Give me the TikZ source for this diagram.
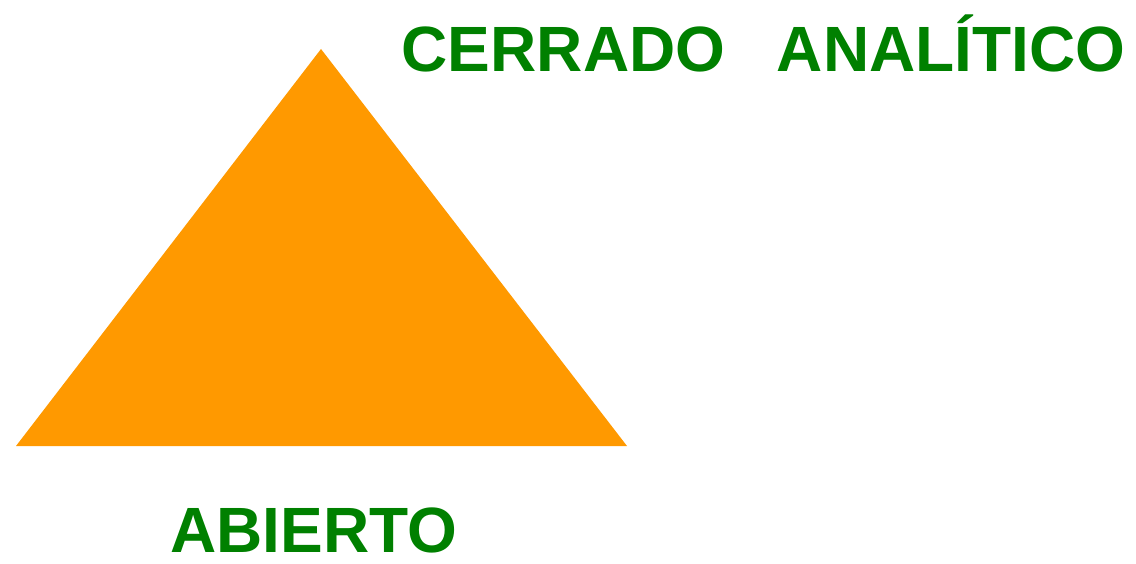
\documentclass[tikz,border=0pt]{standalone}
\usepackage{fontspec}
\setmainfont{Liberation Sans}
\definecolor{triorange}{HTML}{FF9900}
\definecolor{lblgreen}{HTML}{008000}
\begin{document}
\begin{tikzpicture}[x=1pt,y=-1pt,
  lbl/.style={text=lblgreen,font=\fontsize{64}{70}\selectfont\bfseries,inner sep=0pt,anchor=base}]
\useasboundingbox (0,0) rectangle (1136,564);
\coordinate (apex) at (321,49);
\coordinate (bl) at (16,446);
\coordinate (br) at (627,446);
\fill[triorange] (apex) -- (br) -- (bl) -- cycle;
\node[lbl] (cerrado) at (563.5,72) {CERRADO};
\node[lbl] (analitico) at (951,72) {ANALÍTICO};
\node[lbl] (abierto) at (314,552) {ABIERTO};
\end{tikzpicture}
\end{document}
